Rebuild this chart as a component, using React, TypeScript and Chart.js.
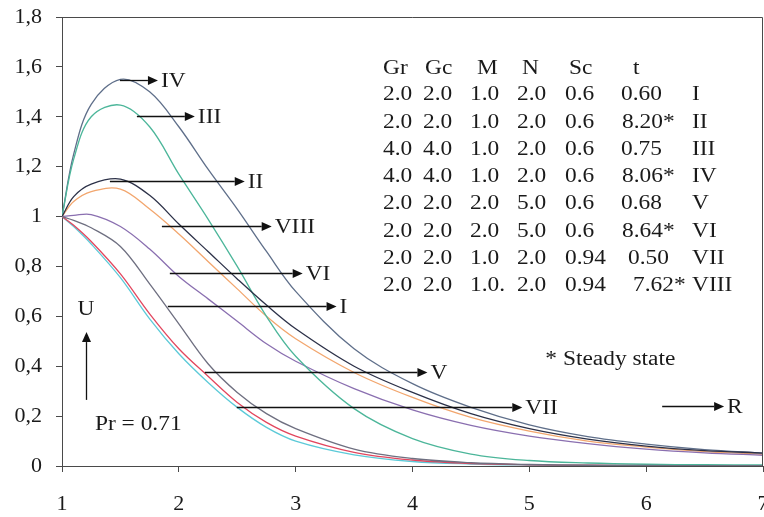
import { useEffect, useRef } from "react";
import { Chart, registerables } from "chart.js";

Chart.register(...registerables);

// ---------- data ----------
const R_VALUES = [1, 1.1, 1.25, 1.5, 1.75, 2, 2.25, 2.5, 2.75, 3, 3.5, 4, 4.5, 5, 5.5, 6, 6.5, 7];

const U_I = [1, 0.985, 0.955, 0.88, 0.73, 0.57, 0.41, 0.295, 0.21, 0.15, 0.068, 0.03, 0.013, 0.006, 0.003, 0.002, 0.001, 0.001];
const U_II = [1, 1.08, 1.13, 1.15, 1.085, 0.97, 0.86, 0.75, 0.645, 0.55, 0.4, 0.295, 0.21, 0.15, 0.108, 0.08, 0.062, 0.052];
const U_III = [1, 1.23, 1.4, 1.447, 1.36, 1.17, 0.99, 0.8, 0.6, 0.44, 0.23, 0.11, 0.048, 0.022, 0.012, 0.007, 0.005, 0.004];
const U_IV = [1, 1.25, 1.45, 1.55, 1.5, 1.36, 1.19, 1.03, 0.86, 0.7, 0.47, 0.33, 0.235, 0.165, 0.118, 0.088, 0.066, 0.052];
const U_V = [1, 0.965, 0.9, 0.77, 0.61, 0.47, 0.36, 0.255, 0.175, 0.12, 0.055, 0.024, 0.01, 0.005, 0.003, 0.002, 0.001, 0.001];
const U_VI = [1, 1.005, 1.008, 0.96, 0.87, 0.76, 0.67, 0.58, 0.49, 0.42, 0.31, 0.225, 0.163, 0.12, 0.09, 0.068, 0.053, 0.043];
const U_VII = [1, 0.96, 0.89, 0.755, 0.59, 0.45, 0.335, 0.235, 0.155, 0.1, 0.045, 0.018, 0.008, 0.004, 0.002, 0.001, 0.001, 0.001];
const U_VIII = [1, 1.06, 1.1, 1.11, 1.03, 0.93, 0.82, 0.71, 0.6, 0.51, 0.375, 0.275, 0.195, 0.14, 0.1, 0.076, 0.058, 0.047];

const SERIES_NAMES = ["I", "II", "III", "IV", "V", "VI", "VII", "VIII"];
const SERIES_VALUES = [U_I, U_II, U_III, U_IV, U_V, U_VI, U_VII, U_VIII];

const X_MIN = 1;
const X_MAX = 7;
const Y_MIN = 0;
const Y_MAX = 1.8;

const TABLE_HEADER = ["Gr", "Gc", "M", "N", "Sc", "t"];
const TABLE_ROWS = [
  ["2.0", "2.0", "1.0", "2.0", "0.6", "0.60", "I"],
  ["2.0", "2.0", "1.0", "2.0", "0.6", "8.20*", "II"],
  ["4.0", "4.0", "1.0", "2.0", "0.6", "0.75", "III"],
  ["4.0", "4.0", "1.0", "2.0", "0.6", "8.06*", "IV"],
  ["2.0", "2.0", "2.0", "5.0", "0.6", "0.68", "V"],
  ["2.0", "2.0", "2.0", "5.0", "0.6", "8.64*", "VI"],
  ["2.0", "2.0", "1.0", "2.0", "0.94", "0.50", "VII"],
  ["2.0", "2.0", "1.0.", "2.0", "0.94", "7.62*", "VIII"],
];

// ---------- styles / layout ----------
const COLORS: Record<string, string> = {
  I: "#6e6f80",
  II: "#2c3148",
  III: "#4cb69a",
  IV: "#5f6f8a",
  V: "#e2465e",
  VI: "#8a6fb0",
  VII: "#5ccad8",
  VIII: "#f2a66e",
};
const FONT_FAMILY = '"Liberation Serif", "Times New Roman", serif';
const AXIS_COLOR = "#4a4a4a";
const TEXT_COLOR = "#1a1a1a";
const TEXT_SIZE = 20;
const TEXT_STRETCH = 1.17;

// arrow annotations in data units: [label, xStart, xEnd, y]
const ARROWS: [string, number, number, number][] = [
  ["IV", 1.496, 1.821, 1.547],
  ["III", 1.641, 2.137, 1.403],
  ["II", 1.41, 2.564, 1.142],
  ["VIII", 1.855, 2.795, 0.962],
  ["VI", 1.923, 3.06, 0.774],
  ["I", 1.906, 3.35, 0.641],
  ["V", 2.222, 4.128, 0.377],
  ["VII", 2.496, 4.94, 0.236],
  ["R", 6.137, 6.667, 0.24],
];
const U_LABEL = { x: 1.205, y: 0.625 };
const U_ARROW = { x: 1.205, y0: 0.265, y1: 0.537 };
const PR_LABEL = { x: 1.282, y: 0.164, text: "Pr = 0.71" };
const STEADY_LABEL = { x: 5.137, y: 0.425, text: "* Steady state" };

const TABLE_HEADER_X = [383, 425, 477, 522, 569, 633];
const TABLE_COL_X = [383, 423, 470, 517, 565, 621, 692];
const T_SHIFT = [0, 1, 0, 1, 0, 1, 7, 12];
const TABLE_HEADER_Y = 69;
const TABLE_ROW_Y0 = 95;
const TABLE_ROW_DY = 27.3;

function fmtTick(v: number) {
  const r = Math.round(v * 10) / 10;
  return String(r).replace(".", ",");
}

function drawText(ctx: CanvasRenderingContext2D, text: string, x: number, y: number, align: CanvasTextAlign = "left") {
  ctx.save();
  ctx.translate(x, y);
  ctx.scale(TEXT_STRETCH, 1);
  ctx.textAlign = align;
  ctx.textBaseline = "middle";
  ctx.fillText(text, 0, 0);
  ctx.restore();
}

function drawArrow(ctx: CanvasRenderingContext2D, x0: number, y0: number, x1: number, y1: number) {
  const head = 10;
  const half = 4.5;
  const dx = x1 - x0;
  const dy = y1 - y0;
  const len = Math.hypot(dx, dy) || 1;
  const ux = dx / len;
  const uy = dy / len;
  const bx = x1 - ux * head;
  const by = y1 - uy * head;
  ctx.beginPath();
  ctx.moveTo(x0, y0);
  ctx.lineTo(bx, by);
  ctx.stroke();
  ctx.beginPath();
  ctx.moveTo(x1, y1);
  ctx.lineTo(bx - uy * half, by + ux * half);
  ctx.lineTo(bx + uy * half, by - ux * half);
  ctx.closePath();
  ctx.fill();
}

const overlayPlugin = {
  id: "overlay",
  afterDraw(chart: any) {
    const { ctx, chartArea: a } = chart;
    const xs = chart.scales.x;
    const ys = chart.scales.y;
    ctx.save();
    // frame (top and right)
    ctx.strokeStyle = AXIS_COLOR;
    ctx.lineWidth = 1;
    ctx.beginPath();
    ctx.moveTo(a.left, Math.round(a.top) + 0.5);
    ctx.lineTo(Math.round(a.right) - 0.5, Math.round(a.top) + 0.5);
    ctx.lineTo(Math.round(a.right) - 0.5, a.bottom);
    ctx.stroke();

    ctx.font = `${TEXT_SIZE}px ${FONT_FAMILY}`;
    ctx.fillStyle = TEXT_COLOR;
    ctx.strokeStyle = "#111";
    ctx.lineWidth = 1.3;

    // arrows with labels
    for (const [label, xa, xb, yv] of ARROWS) {
      const py = Math.round(ys.getPixelForValue(yv)) + 0.5;
      const p0 = xs.getPixelForValue(xa);
      const p1 = xs.getPixelForValue(xb);
      ctx.fillStyle = "#111";
      drawArrow(ctx, p0, py, p1, py);
      ctx.fillStyle = TEXT_COLOR;
      drawText(ctx, label, p1 + 3, py + 1);
    }

    // U label and upward arrow
    const ux = Math.round(xs.getPixelForValue(U_ARROW.x)) + 0.5;
    ctx.fillStyle = "#111";
    drawArrow(ctx, ux, ys.getPixelForValue(U_ARROW.y0), ux, ys.getPixelForValue(U_ARROW.y1));
    ctx.fillStyle = TEXT_COLOR;
    drawText(ctx, "U", xs.getPixelForValue(U_LABEL.x), ys.getPixelForValue(U_LABEL.y), "center");
    drawText(ctx, PR_LABEL.text, xs.getPixelForValue(PR_LABEL.x), ys.getPixelForValue(PR_LABEL.y));
    drawText(ctx, STEADY_LABEL.text, xs.getPixelForValue(STEADY_LABEL.x), ys.getPixelForValue(STEADY_LABEL.y));

    // parameter table
    TABLE_HEADER.forEach((h, i) => drawText(ctx, h, TABLE_HEADER_X[i], TABLE_HEADER_Y));
    TABLE_ROWS.forEach((row, r) => {
      const y = TABLE_ROW_Y0 + r * TABLE_ROW_DY;
      row.forEach((cell, c) => {
        const x = TABLE_COL_X[c] + (c === 5 ? T_SHIFT[r] : 0);
        drawText(ctx, cell, x, y);
      });
    });
    ctx.restore();
  },
};

export default function App() {
  const ref = useRef<HTMLCanvasElement | null>(null);

  useEffect(() => {
    document.body.style.margin = "0";
    const canvas = ref.current;
    if (!canvas) return;
    const datasets = SERIES_NAMES.map((name, i) => ({
      label: name,
      data: R_VALUES.map((r, j) => ({ x: r, y: SERIES_VALUES[i][j] })),
      borderColor: COLORS[name],
      backgroundColor: COLORS[name],
      borderWidth: 1.3,
      pointRadius: 0,
      fill: false,
      tension: 0.35,
    }));

    const chart = new Chart(canvas, {
      type: "line",
      data: { datasets },
      plugins: [overlayPlugin],
      options: {
        responsive: false,
        animation: false,
        devicePixelRatio: 1,
        layout: { padding: { top: 17, right: 1, left: 0, bottom: 0 } },
        plugins: { legend: { display: false }, tooltip: { enabled: false } },
        scales: {
          x: {
            type: "linear",
            min: X_MIN,
            max: X_MAX,
            ticks: {
              stepSize: 1,
              color: TEXT_COLOR,
              font: { family: FONT_FAMILY, size: 22 },
              padding: 19,
              maxRotation: 0,
            },
            grid: { drawOnChartArea: false, drawTicks: true, tickLength: 6, color: AXIS_COLOR },
            border: { display: true, color: AXIS_COLOR, width: 1 },
            afterFit: (s: any) => {
              s.height = 51;
              s.paddingLeft = 0;
              s.paddingRight = 0;
            },
          },
          y: {
            type: "linear",
            min: Y_MIN,
            max: Y_MAX,
            ticks: {
              stepSize: 0.2,
              color: TEXT_COLOR,
              font: { family: FONT_FAMILY, size: 22 },
              padding: 14,
              callback: (v: any) => fmtTick(Number(v)),
            },
            grid: { drawOnChartArea: false, drawTicks: true, tickLength: 6, color: AXIS_COLOR },
            border: { display: true, color: AXIS_COLOR, width: 1 },
            afterFit: (s: any) => {
              s.width = 62;
              s.paddingTop = 0;
              s.paddingBottom = 0;
            },
          },
        },
      },
    });
    return () => chart.destroy();
  }, []);

  return (
    <div style={{ position: "fixed", left: 0, top: 0, width: 764, height: 517, background: "#fff" }}>
      <canvas ref={ref} width={764} height={517} style={{ display: "block" }} />
    </div>
  );
}
